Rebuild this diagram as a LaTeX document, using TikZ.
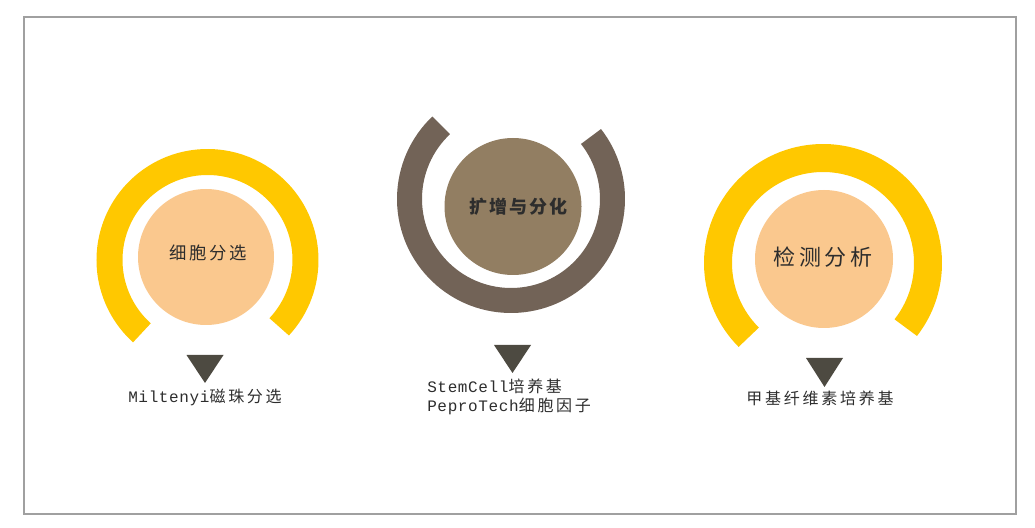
\documentclass[tikz,border=0pt]{standalone}
\usepackage{fontspec}
\setmainfont{Noto Sans CJK SC}
\newfontfamily\monofont{Liberation Mono}[LetterSpace=4]
\usetikzlibrary{calc}
\usepackage{tkz-euclide}
\definecolor{RingClr}{RGB}{255,200,0}
\definecolor{DiskClr}{RGB}{250,200,142}
\definecolor{MidRingClr}{RGB}{114,99,87}
\definecolor{MidDiskClr}{RGB}{146,126,98}
\definecolor{MarkClr}{RGB}{77,74,65}
\definecolor{FrameClr}{RGB}{160,160,160}
\definecolor{TextClr}{RGB}{45,45,45}

\begin{document}
\begin{tikzpicture}[x=0.75pt,y=0.75pt,
  ring/.style={line width=#1,line cap=butt},
  tag/.style={text=TextClr,inner sep=0pt,
    font={\fontsize{12}{14.3}\selectfont\addfontfeature{LetterSpace=17}}}]
\useasboundingbox (0,0) rectangle (1035,528);
\draw[FrameClr,line width=1.5pt] (24,14) rectangle (1016,511);

\tkzDefPoints{207.5/268/RA,206/271/DA,511/329/RB,513/321.5/DB,823/265/RC,824/269/DC}
\tkzDefPoints{205/145/TA,512.5/155/TB,824.5/141/TC}

% rings
\draw[ring=19.5pt,RingClr] ($(RA)+(-43:98)$) arc[start angle=-43,end angle=228,radius=98];
\draw[ring=18.75pt,MidRingClr] ($(RB)+(133.5:101.5)$) arc[start angle=133.5,end angle=398,radius=101.5];
\draw[ring=21pt,RingClr] ($(RC)+(-38:105)$) arc[start angle=-38,end angle=225,radius=105];

% disks
\fill[DiskClr] (DA) circle[radius=68];
\fill[MidDiskClr] (DB) circle[radius=68.5];
\fill[DiskClr] (DC) circle[radius=69];

\node[text=TextClr,font={\fontsize{13}{15}\selectfont\addfontfeature{LetterSpace=15}}] (selName) at (208,275) {细胞分选};
\node[text=TextClr,font={\fontsize{13.5}{15}\selectfont\bfseries\addfontfeature{LetterSpace=11}}] (kuoName) at (518.5,321) {扩增与分化};
\node[text=TextClr,font={\fontsize{16.5}{18}\selectfont\addfontfeature{LetterSpace=16}}] (jcName) at (823,271) {检测分析};

% markers
\fill[MarkClr] (TA) -- ++(-18.5,28) -- ++(37,0) -- cycle;
\fill[MarkClr] (TB) -- ++(-18.5,28) -- ++(37,0) -- cycle;
\fill[MarkClr] (TC) -- ++(-18.5,29) -- ++(37,0) -- cycle;

\node[tag] (selTool) at (205,131) {{\monofont Miltenyi}磁珠分选};
\node[tag,align=left,anchor=west] (kuoTool) at (427,131.5) {{\monofont StemCell}培养基\\{\monofont PeproTech}细胞因子};
\node[tag] (jcTool) at (820,130) {甲基纤维素培养基};
\end{tikzpicture}
\end{document}
